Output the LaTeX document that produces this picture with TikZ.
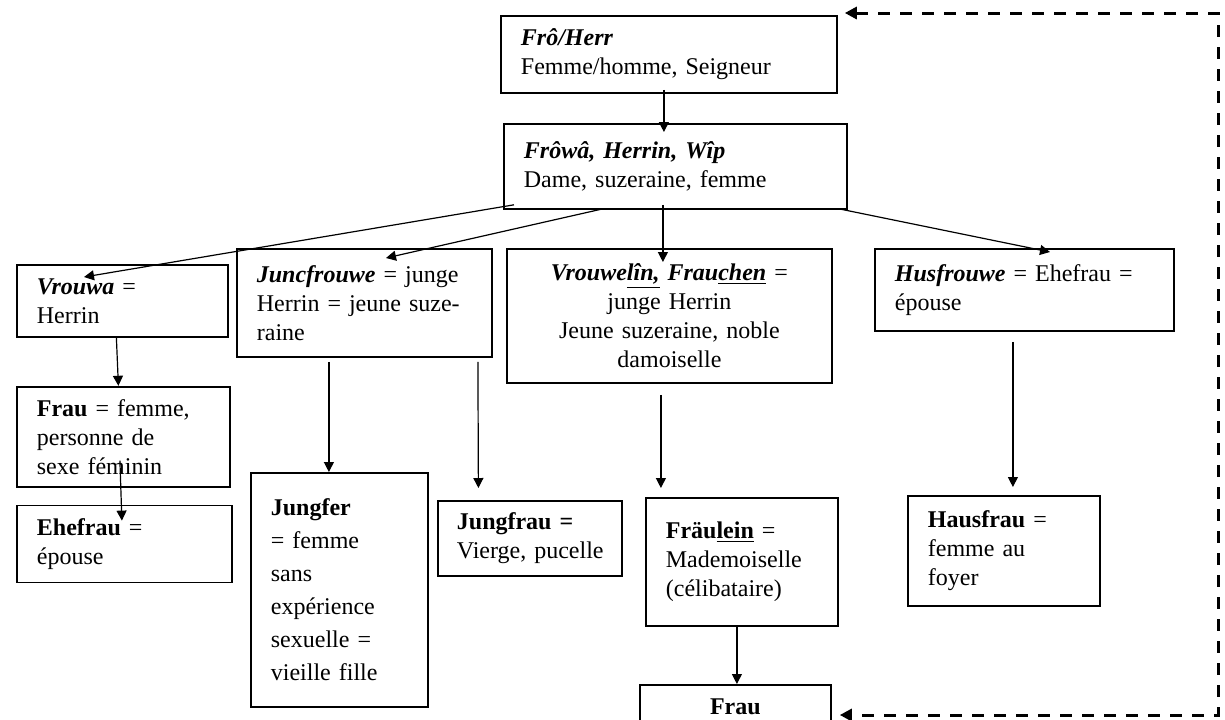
\documentclass[tikz,border=0pt]{standalone}
\usepackage{fontspec}
\setmainfont{Liberation Serif}
\usetikzlibrary{arrows.meta,positioning,calc}
\hyphenpenalty=10000
\exhyphenpenalty=10000

\begin{document}
\begin{tikzpicture}[x=0.5pt,y=-0.5pt,
 box/.style={draw=black,line width=0.9pt,anchor=north west,align=left,
 inner xsep=10pt,inner ysep=3pt,font=\fontsize{12}{14.5}\selectfont},
 mid/.style={box,align=center},
 arr/.style={-{Triangle[length=5pt,width=5pt]},line width=0.6pt},
 dashret/.style={{Triangle[length=6pt,width=6pt]}-{Triangle[length=6pt,width=6pt]},
 line width=1.5pt,dash pattern=on 6pt off 5pt}]
 \useasboundingbox (0,0) rectangle (1225,719);
 \clip (0,0) rectangle (1225,719);
 \node[box,text width=148pt,minimum height=38.5pt] (herr) at (500,15)
 {\textbf{\textit{Frô/Herr}}\\Femme/homme, Seigneur};
 \node[box,text width=151.5pt,minimum height=42.5pt] (frowa) at (503,123)
 {\textbf{\textit{Frôwâ, Herrin, Wîp}}\\Dame, suzeraine, femme};
 \node[box,text width=85.5pt,minimum height=36pt] (vrouwa) at (16,264)
 {\textbf{\textit{Vrouwa}} =\\Herrin};
 \node[box,text width=107.5pt,minimum height=54pt] (juncfr) at (236,248)
 {\textbf{\textit{Juncfrouwe}}~=~junge\\Herrin~=~jeune~suze-\\raine};
 \node[mid,text width=142.5pt,minimum height=67pt] (vrouwelin) at (506,248)
 {\textbf{\textit{Vrouwe\underline{lîn,} Frau\underline{chen}}} =\\junge Herrin\\Jeune suzeraine, noble\\damoiselle};
 \node[box,text width=129.5pt,minimum height=41pt] (husfr) at (874,248)
 {\textbf{\textit{Husfrouwe}}~=~Ehefrau~=\\épouse};
 \node[box,text width=86.5pt,minimum height=50pt,below=24pt of vrouwa.south west,anchor=north west] (frau)
 {\textbf{Frau}~=~femme,\\personne de\\sexe féminin};
 \node[box,text width=87.5pt,minimum height=38.5pt,below=8.5pt of frau.south west,anchor=north west] (ehefrau)
 {\textbf{Ehefrau} =\\épouse};
 \node[box,text width=68.5pt,minimum height=117pt,font=\fontsize{12}{16.5}\selectfont] (jungfer) at (250,472)
 {\textbf{Jungfer}\\= femme\\sans\\expérience\\sexuelle =\\vieille fille};
 \node[box,text width=73pt,minimum height=37.5pt,inner xsep=9.5pt] (jungfrau) at (437,500)
 {\textbf{Jungfrau =}\\Vierge,~pucelle};
 \node[box,text width=76pt,minimum height=64pt] (fraulein) at (645,497)
 {\textbf{Fräu\underline{lein}} =\\Mademoiselle\\(célibataire)};
 \node[box,text width=76pt,minimum height=55pt] (hausfrau) at (907,495)
 {\textbf{Hausfrau} =\\femme au\\foyer};
 \node[mid,text width=75.5pt,minimum height=22pt] (fraufin) at (639,684)
 {\textbf{Frau}};
 \coordinate (rim) at (1218,13);
 \coordinate (rimb) at (1218,715);
 \draw[arr] ($(herr.south)+(-5,-4)$) -- ($(frowa.north)+(-11.5,9)$);
 \draw[arr] ($(frowa.south west)+(11,-5)$) -- ($(vrouwa.north west)+(68,13)$);
 \draw[arr] ($(frowa.south west)+(100,-1)$) -- ($(juncfr.north west)+(150,10)$);
 \draw[arr] ($(frowa.south)+(-12.5,-5)$) -- ($(vrouwelin.north)+(-6.5,14)$);
 \draw[arr] ($(frowa.south east)+(-9,-1)$) -- ($(husfr.north west)+(176,4)$);
 \draw[arr] ($(vrouwa.south)+(-6,0)$) -- ($(frau.north)+(-5,0)$);
 \draw[arr] ($(frau.south)+(-3.5,-27)$) -- ($(ehefrau.north)+(-2.5,16)$);
 \draw[arr] ($(juncfr.south)+(-35.5,4)$) -- ($(jungfer.north)+(-10.5,0)$);
 \draw[arr] ($(juncfr.south)+(113.5,4)$) -- ($(jungfrau.north)+(-51.5,-12)$);
 \draw[arr] ($(vrouwelin.south)+(-8.5,11)$) -- ($(fraulein.north)+(-81,-9)$);
 \draw[arr] ($(husfr.south)+(-11.5,10)$) -- ($(hausfrau.north)+(9,-8)$);
 \draw[arr] ($(fraulein.south)+(-5,0)$) -- ($(fraufin.north)+(1.5,0)$);
 \draw[dashret] ($(herr.north east)+(7,-2)$) -- (rim)
 -- (rimb) -- ($(fraufin.east |- rimb)+(8,0)$);
\end{tikzpicture}
\end{document}
